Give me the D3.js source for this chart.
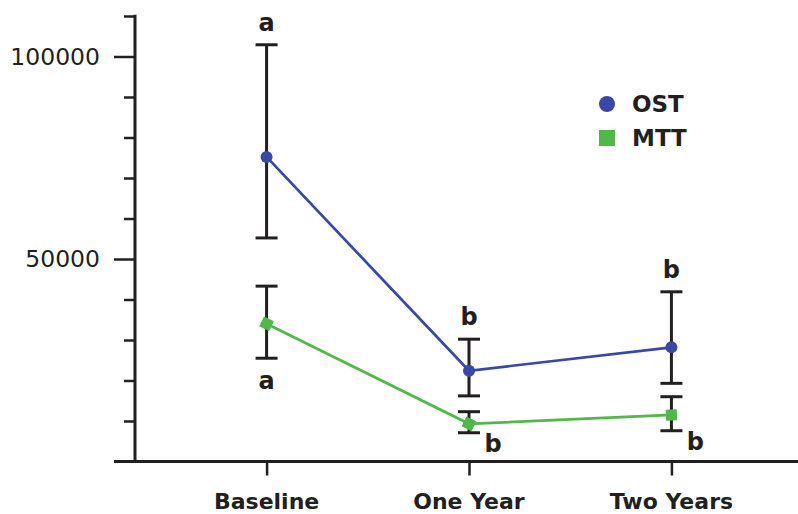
<!DOCTYPE html>
<html><head><meta charset="utf-8">
<script src="https://cdn.jsdelivr.net/npm/d3@7"></script>
<style>body{margin:0;background:#fff}svg{display:block}text{font-family:"DejaVu Sans",sans-serif;fill:#231f20}</style>
</head><body><svg id="c" width="798" height="514"></svg>
<script>
const categories = ["Baseline", "One Year", "Two Years"];
const ostMean = [75200, 22400, 28200];
const ostUpper = [102900, 30200, 41900];
const ostLower = [55200, 16200, 19300];
const mttMean = [34000, 9300, 11500];
const mttUpper = [43300, 12300, 16000];
const mttLower = [25500, 7100, 7600];
const ostLetters = ["a", "b", "b"];
const mttLetters = ["a", "b", "b"];
const yTicks = [50000, 100000];
const legendLabels = ["OST", "MTT"];

const ink = "#231f20", blue = "#3848a4", green = "#4fb848";
const svg = d3.select("#c");
const x = d3.scalePoint().domain(categories).range([135, 803]).padding(0.65);
const y = d3.scaleLinear().domain([0, 110000]).range([461.5, 16]);

// y axis
const yAxis = svg.append("g").attr("transform", "translate(135,0)");
yAxis.call(d3.axisLeft(y).tickValues(d3.range(0, 110001, 10000)).tickSize(11).tickFormat(""))
yAxis.select(".domain").remove();
yAxis.selectAll(".tick line").attr("stroke", ink).attr("stroke-width", 2.5)
  .attr("x2", d => yTicks.includes(d) ? -21 : -11);
yAxis.selectAll(".tick").filter(d => d === 0).remove();
yAxis.append("line").attr("x1", 0).attr("x2", 0).attr("y1", y(110000) - 1.2).attr("y2", y(0)).attr("stroke", ink).attr("stroke-width", 3);
yAxis.selectAll(".lab").data(yTicks).enter().append("text")
  .attr("x", -35).attr("y", d => y(d)).attr("dy", "0.35em").attr("text-anchor", "end")
  .attr("font-size", 23.5).text(d => d);

// x axis
const xAxis = svg.append("g").attr("transform", `translate(0,${y(0)})`);
xAxis.call(d3.axisBottom(x).tickSize(14).tickFormat(""));
xAxis.select(".domain").remove();
xAxis.selectAll(".tick line").attr("stroke", ink).attr("stroke-width", 2.5);
xAxis.append("line").attr("x1", 114).attr("x2", 798).attr("stroke", ink).attr("stroke-width", 3);
xAxis.selectAll(".cl").data(categories).enter().append("text")
  .attr("x", d => x(d)).attr("y", 47).attr("text-anchor", "middle")
  .attr("font-size", 22).attr("font-weight", 700).text(d => d);

function errBars(upper, lower) {
  const g = svg.append("g").attr("stroke", ink).attr("stroke-width", 3);
  categories.forEach((c, i) => {
    g.append("line").attr("x1", x(c)).attr("x2", x(c)).attr("y1", y(upper[i])).attr("y2", y(lower[i]));
    [upper[i], lower[i]].forEach(v => g.append("line").attr("x1", x(c) - 11).attr("x2", x(c) + 11).attr("y1", y(v)).attr("y2", y(v)));
  });
}
errBars(ostUpper, ostLower);
errBars(mttUpper, mttLower);

const line = d3.line().x((d, i) => x(categories[i])).y(d => y(d));
svg.append("path").datum(ostMean).attr("d", line).attr("fill", "none").attr("stroke", blue).attr("stroke-width", 2.7);
svg.append("path").datum(mttMean).attr("d", line).attr("fill", "none").attr("stroke", green).attr("stroke-width", 2.7);

svg.selectAll(".ost").data(ostMean).enter().append("circle")
  .attr("cx", (d, i) => x(categories[i])).attr("cy", d => y(d)).attr("r", 6).attr("fill", blue);
const ang = mttMean.map((d, i) => {
  const j = i === 0 ? 1 : i;
  return Math.atan2(y(mttMean[j]) - y(mttMean[j - 1]), x(categories[j]) - x(categories[j - 1])) * 180 / Math.PI;
});
svg.selectAll(".mtt").data(mttMean).enter().append("rect")
  .attr("x", -5.5).attr("y", -5.5).attr("width", 11).attr("height", 11).attr("fill", green)
  .attr("transform", (d, i) => `translate(${x(categories[i])},${y(d)}) rotate(${ang[i]})`);

// significance letters
const lg = svg.append("g").attr("font-size", 24).attr("font-weight", 700);
ostLetters.forEach((t, i) => lg.append("text").attr("x", x(categories[i])).attr("y", y(ostUpper[i]) - 14).attr("text-anchor", "middle").text(t));
mttLetters.forEach((t, i) => {
  if (i === 0) lg.append("text").attr("x", x(categories[i])).attr("y", y(mttLower[i]) + 31).attr("text-anchor", "middle").text(t);
  else lg.append("text").attr("x", x(categories[i]) + 24).attr("y", y(mttLower[i]) + 19).attr("text-anchor", "middle").text(t);
});

// legend
const leg = svg.append("g");
leg.append("circle").attr("cx", 607).attr("cy", 104).attr("r", 8).attr("fill", blue);
leg.append("rect").attr("x", 599).attr("y", 130).attr("width", 16).attr("height", 16).attr("fill", green);
legendLabels.forEach((t, i) => leg.append("text").attr("x", 632).attr("y", 104 + i * 34).attr("dy", "0.35em")
  .attr("font-size", 23).attr("font-weight", 700).text(t));
</script></body></html>
